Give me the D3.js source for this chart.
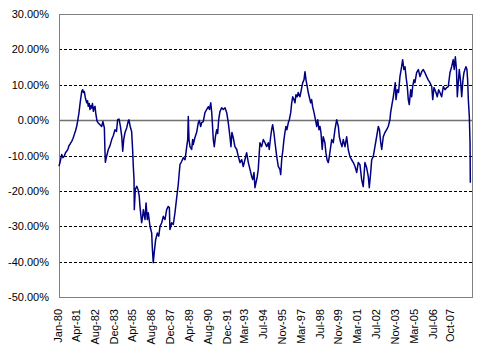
<!DOCTYPE html>
<html>
<head>
<meta charset="utf-8">
<script src="https://cdn.jsdelivr.net/npm/d3@7"></script>
<style>
  html, body { margin: 0; padding: 0; background: #fff; }
  svg { display: block; }
  text { font-family: "Liberation Sans", Arial, sans-serif; font-size: 11px; fill: #000; }
</style>
</head>
<body>
<svg id="chart" width="478" height="355"></svg>
<script>
// ---- data (decimal year, percent) ----
const years = [
1979.93,1980.00,1980.12,1980.21,1980.30,1980.39,1980.47,1980.57,1980.64,1980.74,1980.83,1980.92,
1981.01,1981.10,1981.18,1981.25,1981.34,1981.44,1981.54,1981.61,1981.66,1981.72,1981.79,1981.89,1981.95,
1982.00,1982.07,1982.12,1982.19,1982.24,1982.30,1982.36,1982.41,1982.48,1982.53,1982.62,1982.71,1982.83,1982.95,
1983.04,1983.14,1983.18,1983.21,1983.30,1983.42,1983.54,1983.66,1983.77,1983.89,
1984.00,1984.08,1984.18,1984.27,1984.37,1984.44,1984.51,1984.60,1984.72,1984.83,1984.88,1984.97,
1985.07,1985.14,1985.19,1985.24,1985.26,1985.33,1985.43,1985.52,1985.61,1985.66,1985.78,1985.85,1985.90,
1986.02,1986.09,1986.18,1986.25,1986.37,1986.49,1986.53,1986.60,1986.67,1986.77,1986.89,1986.99,
1987.08,1987.20,1987.31,1987.43,1987.55,1987.66,1987.74,1987.78,1987.86,1987.90,
1988.02,1988.14,1988.26,1988.37,1988.49,1988.61,1988.73,1988.85,1988.97,
1989.04,1989.08,1989.13,1989.20,1989.32,1989.39,1989.43,1989.55,1989.67,1989.79,1989.86,1989.96,
1990.03,1990.14,1990.26,1990.38,1990.50,1990.58,1990.67,1990.74,1990.79,1990.85,1990.92,
1991.00,1991.09,1991.16,1991.23,1991.32,1991.44,1991.56,1991.68,1991.80,1991.91,
1992.03,1992.10,1992.17,1992.26,1992.38,1992.51,1992.62,1992.74,1992.86,1992.97,
1993.09,1993.21,1993.33,1993.45,1993.57,1993.64,1993.73,1993.80,1993.87,1993.96,
1994.03,1994.15,1994.27,1994.39,1994.51,1994.63,1994.74,1994.81,1994.91,1994.98,
1995.05,1995.14,1995.22,1995.34,1995.45,1995.57,1995.62,1995.69,1995.78,1995.85,1995.92,1995.99,
1996.06,1996.16,1996.23,1996.33,1996.40,1996.47,1996.56,1996.63,1996.70,1996.79,1996.86,1996.98,
1997.11,1997.18,1997.27,1997.34,1997.41,1997.50,1997.57,1997.64,1997.74,1997.81,1997.88,1997.98,
1998.05,1998.12,1998.17,1998.24,1998.33,1998.40,1998.47,1998.56,1998.63,1998.75,1998.82,1998.90,1998.99,
1999.06,1999.16,1999.23,1999.34,1999.46,1999.58,1999.70,1999.77,1999.87,1999.96,
2000.05,2000.17,2000.29,2000.40,2000.52,2000.64,2000.76,2000.88,
2001.00,2001.11,2001.23,2001.35,2001.46,2001.58,2001.70,2001.82,2001.89,2001.99,
2002.06,2002.17,2002.29,2002.41,2002.53,2002.61,2002.70,2002.77,2002.88,
2003.00,2003.12,2003.23,2003.35,2003.40,2003.47,2003.59,2003.66,2003.73,2003.78,2003.87,2003.96,
2004.06,2004.18,2004.25,2004.34,2004.42,2004.49,2004.58,2004.65,2004.72,2004.82,2004.89,2004.96,
2005.05,2005.12,2005.24,2005.36,2005.48,2005.60,2005.71,2005.83,2005.95,
2006.06,2006.18,2006.31,2006.38,2006.47,2006.61,2006.70,2006.80,2006.89,
2007.01,2007.13,2007.25,2007.37,2007.48,2007.60,2007.72,2007.83,2007.90,2007.98,
2008.06,2008.12,2008.19,2008.26,2008.36,2008.43,2008.52,2008.59,2008.66,2008.73,2008.80,2008.85,2008.90,2008.97,
2009.02,2009.04
];
const values = [
-13.0,-12.0,-9.7,-10.6,-10.2,-9.2,-8.8,-8.1,-7.2,-6.6,-6.0,-5.2,
-4.1,-3.0,-1.8,-0.3,2.0,5.3,8.1,8.6,7.8,8.1,6.4,4.9,5.5,
3.9,4.7,3.0,4.1,3.4,4.7,2.5,3.5,3.9,2.0,-0.3,-0.8,-1.3,-1.8,
-0.4,-2.2,-8.3,-11.9,-10.2,-8.3,-7.2,-5.5,-4.4,-2.7,
-3.2,0.1,0.3,-1.6,-4.6,-8.8,-5.5,-3.5,-2.2,-0.3,0.1,-1.8,
-3.2,-8.3,-13.1,-16.8,-25.3,-19.6,-18.7,-19.6,-21.5,-24.4,-29.0,-27.2,-25.3,
-28.1,-23.4,-28.1,-26.2,-30.0,-31.9,-35.7,-40.3,-37.4,-33.8,-31.9,-32.8,
-30.0,-29.0,-27.2,-28.1,-25.3,-24.4,-24.7,-30.9,-29.8,-29.0,
-29.5,-26.1,-21.9,-18.2,-12.6,-11.7,-10.6,-11.2,-7.5,
-5.5,1.0,-5.5,-7.5,-8.3,-5.5,-6.9,-4.9,-3.5,-0.7,-0.1,-1.8,
-0.7,-0.4,2.1,3.0,3.8,3.0,4.9,2.1,-1.3,-5.5,-7.5,
-4.7,-2.7,-3.8,0.1,2.4,3.5,3.0,3.5,2.1,-0.7,
-4.7,-7.5,-3.5,-4.9,-7.5,-8.3,-10.3,-12.0,-11.2,-13.1,
-11.2,-9.2,-12.0,-14.0,-16.0,-16.8,-14.8,-19.1,-17.7,-16.0,
-14.0,-6.4,-7.5,-5.5,-6.4,-7.5,-6.4,-8.3,-4.7,-2.7,
-1.3,-3.5,-6.4,-10.3,-13.1,-14.0,-15.4,-11.2,-8.3,-5.5,-3.5,-1.8,
-2.7,-0.7,0.1,2.1,4.9,6.6,5.8,4.9,7.2,6.6,7.8,6.6,
9.2,10.6,11.4,13.7,11.4,9.5,7.8,6.6,4.9,5.8,3.8,2.1,
0.7,-0.7,-1.8,0.1,-2.7,-1.8,-3.5,-8.3,-4.7,-6.4,-9.2,-11.2,-12.0,
-10.3,-7.5,-5.5,-6.4,-2.7,0.1,-1.8,-4.7,-6.4,-7.5,
-5.5,-7.5,-4.7,-8.3,-10.3,-11.2,-12.0,-13.1,
-14.8,-12.0,-12.6,-16.8,-18.8,-12.0,-13.4,-16.0,-19.1,-14.8,
-11.2,-10.3,-7.5,-4.7,-1.8,-2.7,-6.4,-8.3,-4.7,
-3.5,-2.7,-1.8,0.1,2.1,3.8,6.6,8.6,10.6,5.8,8.6,7.8,
12.3,15.1,17.1,14.3,15.1,12.3,9.5,5.8,4.4,8.6,6.6,9.5,
11.4,10.6,13.4,14.3,12.3,13.7,14.3,13.4,12.3,
11.4,10.6,9.5,5.8,9.2,7.8,6.6,8.6,7.8,
6.6,9.5,8.6,9.2,9.5,13.4,15.1,17.1,14.3,17.9,
14.3,6.6,10.6,14.3,10.6,6.6,11.4,13.4,14.3,15.1,14.3,11.4,5.8,1.0,
-6.4,-17.7
];

// ---- axes ----
const yTicks = [30, 20, 10, 0, -10, -20, -30, -40, -50];
const tickLabels = ["Jan-80","Apr-81","Aug-82","Dec-83","Apr-85","Aug-86","Dec-87","Apr-89","Aug-90","Dec-91","Mar-93",
                    "Jul-94","Nov-95","Mar-97","Jul-98","Nov-99","Mar-01","Jul-02","Nov-03","Mar-05","Jul-06","Oct-07"];
const tickYears = [1980.00,1981.25,1982.58,1983.92,1985.25,1986.58,1987.92,1989.25,1990.58,1991.92,1993.17,
                   1994.50,1995.83,1997.17,1998.50,1999.83,2001.17,2002.50,2003.83,2005.17,2006.50,2007.75];

const svg = d3.select("#chart");
const L = 59, R = 473, T = 14, B = 297;

const x = d3.scaleLinear().domain([1979.93, 2009.23]).range([L, R]);
const y = d3.scaleLinear().domain([-50, 30]).range([B, T]);

// dashed gridlines
svg.append("g")
  .selectAll("line")
  .data(yTicks.filter(v => v !== 0 && v !== 30 && v !== -50))
  .join("line")
  .attr("x1", L).attr("x2", R)
  .attr("y1", d => Math.round(y(d)) + 0.5).attr("y2", d => Math.round(y(d)) + 0.5)
  .attr("stroke", "#000").attr("stroke-width", 1).attr("stroke-dasharray", "3,2");

// zero line
svg.append("line")
  .attr("x1", L).attr("x2", R)
  .attr("y1", Math.round(y(0)) + 0.5).attr("y2", Math.round(y(0)) + 0.5)
  .attr("stroke", "#707070").attr("stroke-width", 1.6);

// plot border
svg.append("rect")
  .attr("x", L + 0.5).attr("y", T + 0.5)
  .attr("width", R - L - 1).attr("height", B - T)
  .attr("fill", "none").attr("stroke", "#808080").attr("stroke-width", 1);

// y axis labels
const yAxis = d3.axisLeft(y).tickValues(yTicks).tickSize(0).tickPadding(10)
  .tickFormat(d => d.toFixed(2) + "%");
const gy = svg.append("g").attr("transform", `translate(${L},0)`).call(yAxis);
gy.select(".domain").remove();
gy.selectAll("text").style("font-family", '"Liberation Sans", Arial, sans-serif').style("font-size", "11px").attr("fill", "#000");

// x axis labels (rotated)
const xAxis = d3.axisBottom(x).tickValues(tickYears).tickSize(0)
  .tickFormat((d, i) => tickLabels[i]);
const gx = svg.append("g").attr("transform", `translate(0,${B})`).call(xAxis);
gx.select(".domain").remove();
gx.selectAll("text")
  .attr("transform", "rotate(-90)")
  .attr("text-anchor", "end")
  .attr("x", -12).attr("y", 0).attr("dx", 0).attr("dy", "0.3em")
  .style("font-family", '"Liberation Sans", Arial, sans-serif').style("font-size", "11px").attr("fill", "#000");
gx.selectAll(".tick").attr("transform", d => `translate(${x(d) - 1},0)`);

// data line
const pts = years.map((yr, i) => [yr, values[i]]);
const line = d3.line().x(d => x(d[0])).y(d => y(d[1]));
svg.append("path")
  .datum(pts)
  .attr("d", line)
  .attr("fill", "none")
  .attr("stroke", "#000080")
  .attr("stroke-width", 1.5)
  .attr("stroke-linejoin", "round");
</script>
</body>
</html>
